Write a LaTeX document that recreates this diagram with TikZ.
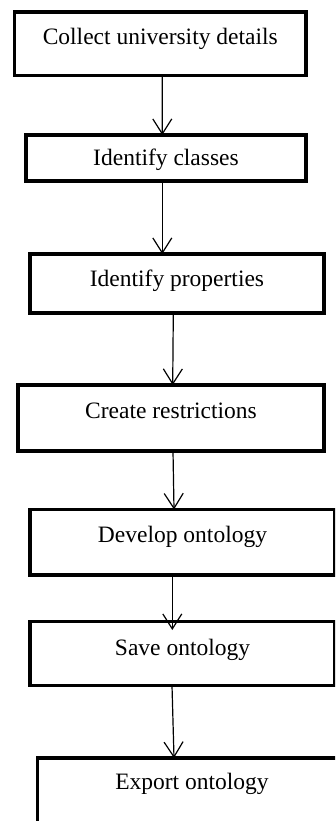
\documentclass[tikz,border=0pt]{standalone}
\usepackage{fontspec}
\setmainfont{Liberation Serif}
\usepackage{tikz}
\usetikzlibrary{arrows.meta,positioning}
\tikzstyle{a}=[anchor=north west]
\tikzstyle{box}=[a,draw,rectangle,line width=3.5pt,inner sep=0pt,outer sep=0pt,align=center,font=\fontsize{23.5}{28}\selectfont]
\tikzstyle{arrow}=[draw,line width=1.2pt,-{Straight Barb[length=15pt,width=19pt,line width=1.2pt]}]

\begin{document}
\begin{tikzpicture}[x=1pt,y=-1pt]
  \path[use as bounding box,clip] (0,0) rectangle (335,821);

  % Steps
  \node [box,minimum width=291.5pt,text height=33pt,text depth=30.5pt] (collect) at (14.5,12) {Collect university details};
  \node [box,minimum width=280pt,text height=31pt,text depth=15pt] (classes) at (26,135) {Identify classes};
  \node [box,minimum width=294pt,text height=32pt,text depth=27pt] (props) at (30,254) {Identify properties};
  \node [box,minimum width=306pt,text height=33pt,text depth=33pt] (restr) at (18,385) {Create restrictions};
  \node [box,minimum width=305pt,text height=32.5pt,text depth=33pt] (develop) at (30,509.5) {Develop ontology};
  \node [box,minimum width=305pt,text height=33.5pt,text depth=30.5pt] (save) at (30,621.5) {Save ontology};
  \node [box,minimum width=309pt,text height=31pt,text depth=59pt] (export) at (37.5,758) {Export ontology};

  % Flow
  \draw[arrow] ([xshift=2]collect.south) -- ([xshift=-3.7]classes.north);
  \draw[arrow] ([xshift=-3.7]classes.south) -- ([xshift=-14.7]props.north);
  \draw[arrow] ([xshift=-3.7]props.south) -- ([xshift=1.7]restr.north);
  \draw[arrow] ([xshift=2]restr.south) -- ([xshift=-8.5]develop.north);
  \draw[arrow,shorten >=-8.5pt] ([xshift=-10.2]develop.south) -- ([xshift=-10.2]save.north);
  \draw[arrow] ([xshift=-10.5]save.south) -- ([xshift=-18]export.north);
\end{tikzpicture}
\end{document}
